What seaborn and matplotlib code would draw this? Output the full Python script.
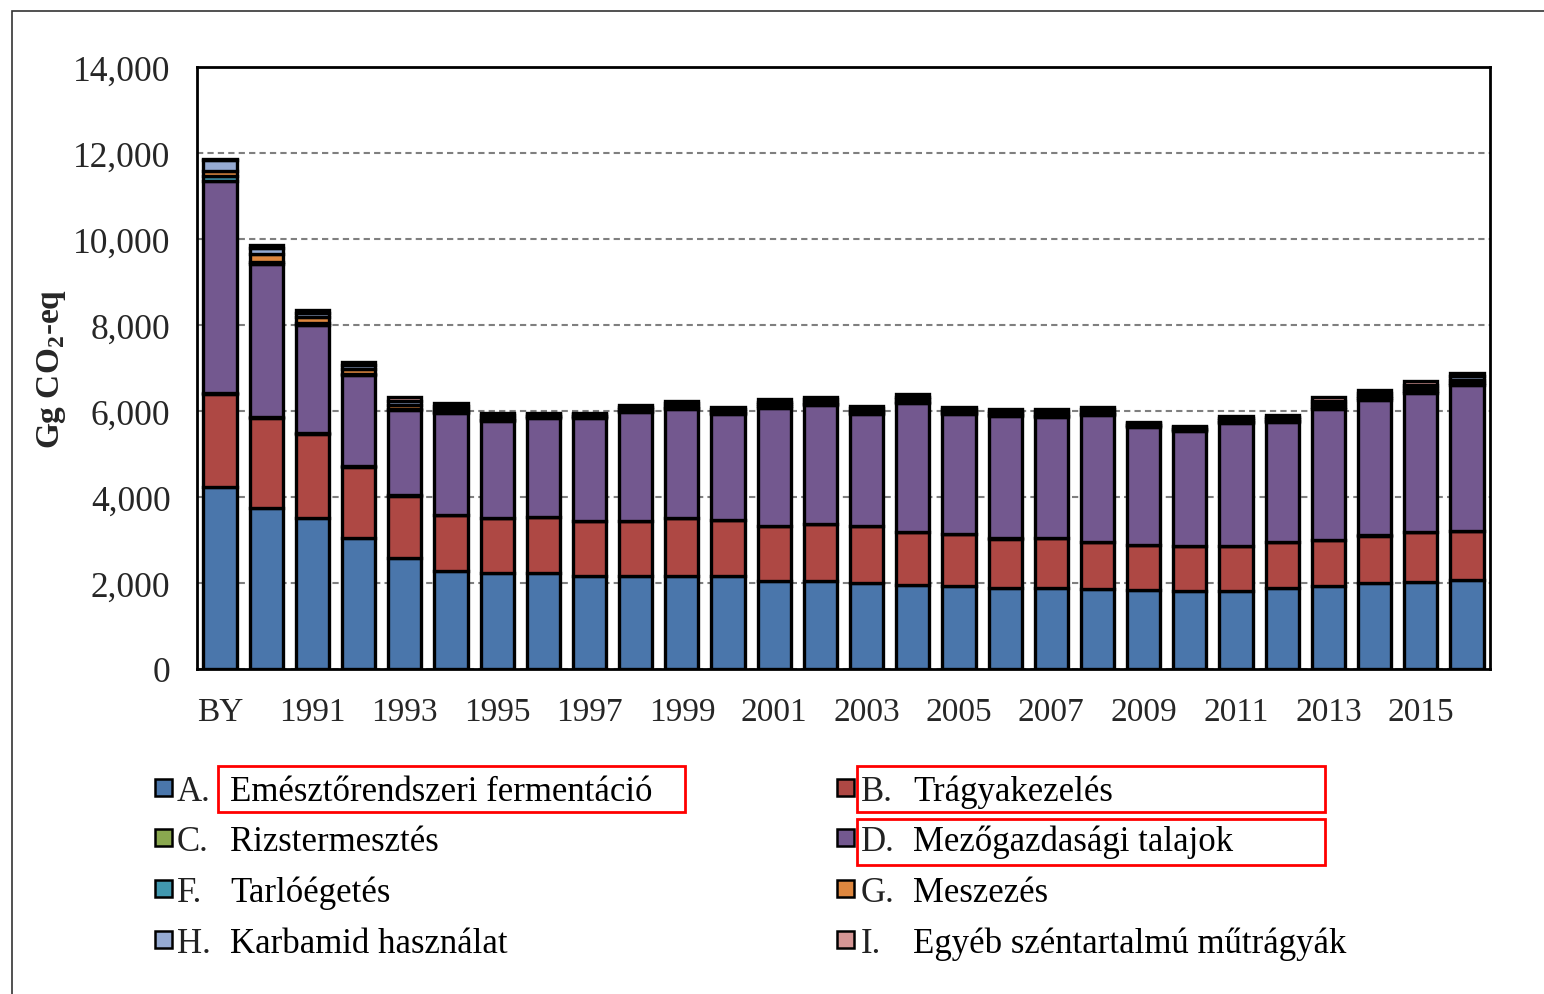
import numpy as np
import pandas as pd
import matplotlib
matplotlib.use("Agg")
import matplotlib.pyplot as plt
from matplotlib.patches import Rectangle
from matplotlib.ticker import FuncFormatter
import seaborn as sns

# ========= 1) DATA (Gg CO2-eq, read off the chart) =========
years = ["BY"] + [str(y) for y in range(1990, 2017)]

a_enteric = [4230, 3745, 3510, 3050, 2580, 2280, 2235, 2235, 2165, 2165, 2165, 2165, 2045, 2045,
             2000, 1955, 1930, 1885, 1885, 1860, 1835, 1815, 1815, 1885, 1930, 2000, 2025, 2070]
b_manure = [2165, 2095, 1955, 1650, 1445, 1300, 1275, 1300, 1275, 1275, 1345, 1300, 1280, 1325,
            1325, 1230, 1210, 1140, 1160, 1095, 1050, 1045, 1045, 1070, 1070, 1095, 1160, 1140]
c_rice = [30, 25, 20, 15, 12, 10, 10, 10, 10, 10, 10, 10, 10, 10,
          10, 10, 10, 10, 10, 10, 10, 10, 10, 10, 10, 10, 10, 10]
d_soils = [4925, 3555, 2515, 2125, 1990, 2365, 2250, 2290, 2385, 2525, 2525, 2455, 2735, 2760,
           2595, 2990, 2780, 2850, 2805, 2940, 2735, 2665, 2850, 2780, 3035, 3150, 3225, 3385]
f_burning = [110, 50, 40, 30, 30, 20, 30, 20, 20, 30, 30, 30, 35, 30,
             30, 35, 30, 30, 30, 30, 20, 20, 30, 25, 50, 40, 50, 50]
g_liming = [120, 170, 140, 110, 80, 60, 45, 30, 30, 40, 45, 40, 50, 45,
            45, 50, 40, 40, 45, 45, 30, 30, 40, 40, 60, 50, 60, 70]
h_urea = [250, 150, 90, 90, 90, 80, 55, 35, 35, 50, 60, 50, 65, 55,
          55, 65, 50, 45, 55, 60, 35, 35, 50, 45, 80, 70, 80, 85]
i_other = [40, 80, 80, 70, 90, 70, 55, 35, 35, 45, 55, 45, 60, 55,
           55, 60, 45, 45, 55, 55, 30, 30, 45, 45, 80, 70, 80, 85]

codes = ["A.", "B.", "C.", "D.", "F.", "G.", "H.", "I."]
names = ["Emésztőrendszeri fermentáció", "Trágyakezelés", "Rizstermesztés",
         "Mezőgazdasági talajok", "Tarlóégetés", "Meszezés",
         "Karbamid használat", "Egyéb széntartalmú műtrágyák"]
colors = ["#4A76AB", "#AE4844", "#8AA84F", "#73588F", "#4198AF", "#DE873F", "#95AAD2", "#D49594"]
series = [a_enteric, b_manure, c_rice, d_soils, f_burning, g_liming, h_urea, i_other]

# long form table for seaborn
rows = []
for code, vals in zip(codes, series):
    for i, v in enumerate(vals):
        rows.append({"idx": i, "value": v, "series": code})
df = pd.DataFrame(rows)

# ========= 2) STYLE =========
sns.set_theme(style="white")
plt.rcParams["font.family"] = ["Liberation Serif", "DejaVu Serif"]
plt.rcParams["mathtext.fontset"] = "custom"
plt.rcParams["mathtext.rm"] = "Liberation Serif"
plt.rcParams["mathtext.bf"] = "Liberation Serif:bold"

fig = plt.figure(figsize=(15.44, 9.95), dpi=100)
ax = fig.add_axes([197 / 1544, 1 - 670 / 995, (1490 - 197) / 1544, (670 - 68) / 995])

# ========= 3) STACKED BARS =========
sns.histplot(
    data=df, x="idx", weights="value", hue="series",
    hue_order=codes[::-1], multiple="stack", discrete=True, shrink=0.72,
    palette=dict(zip(codes, colors)), edgecolor="black", linewidth=2.4,
    alpha=1, legend=False, ax=ax, zorder=3,
)

# ========= 4) AXES =========
ax.set_xlim(-0.5, len(years) - 0.5)
ax.set_ylim(0, 14000)
ax.set_yticks(np.arange(0, 14001, 2000))
ax.yaxis.set_major_formatter(FuncFormatter(lambda v, p: f"{v:,.0f}"))
ax.set_xticks(np.arange(-0.5, len(years), 1))
ax.set_xticklabels([])
ax.set_xticks(np.arange(len(years)), minor=True)
ax.set_xticklabels([y if i % 2 == 0 else "" for i, y in enumerate(years)], minor=True)
ax.tick_params(axis="x", which="major", direction="out", length=8, width=2, color="black")
ax.tick_params(axis="x", which="minor", length=0, pad=20, labelsize=24)
ax.tick_params(axis="y", direction="out", length=8, width=2, color="black", labelsize=25.5, pad=11)
ax.set_xlabel("")
ax.set_ylabel(r"Gg CO$_\mathbf{2}$-eq", fontsize=24, fontweight="bold", labelpad=4)
ax.yaxis.grid(True, linestyle=(0, (3, 2)), color="#7F7F7F", linewidth=1.5)
ax.set_axisbelow(True)
for s in ax.spines.values():
    s.set_visible(True)
    s.set_color("black")
    s.set_linewidth(2)

# ========= 5) LEGEND (two columns, drawn by hand) =========
W, H = 1544, 995
left_items = [0, 2, 4, 6]
right_items = [1, 3, 5, 7]
baselines = [801, 851, 902, 953]
for col, items in enumerate([left_items, right_items]):
    mx, cx, nx = (163, 177, 230) if col == 0 else (845, 861, 913)
    for row, k in enumerate(items):
        by = baselines[row]
        fig.patches.append(Rectangle(((mx - 8) / W, 1 - (by - 4) / H), 17 / W, 17 / H,
                                     transform=fig.transFigure, facecolor=colors[k],
                                     edgecolor="black", linewidth=1.8))
        fig.text(cx / W, 1 - by / H, codes[k], fontsize=25, va="baseline", ha="left", color="#222222")
        fig.text(nx / W, 1 - by / H, names[k], fontsize=25, va="baseline", ha="left", color="black")

# red highlight boxes
for x0, y0, x1, y1 in [(218, 767, 685, 813), (857, 767, 1325, 813), (857, 820, 1325, 866)]:
    fig.patches.append(Rectangle((x0 / W, 1 - y1 / H), (x1 - x0) / W, (y1 - y0) / H,
                                 transform=fig.transFigure, fill=False,
                                 edgecolor="#FF0000", linewidth=2))

# outer frame of the original picture
fig.patches.append(Rectangle((12 / W, -0.05), 1.1, 1 - 12 / H + 0.05,
                             transform=fig.transFigure, fill=False,
                             edgecolor="#333333", linewidth=1.2))

fig.savefig("out.png", dpi=100)
